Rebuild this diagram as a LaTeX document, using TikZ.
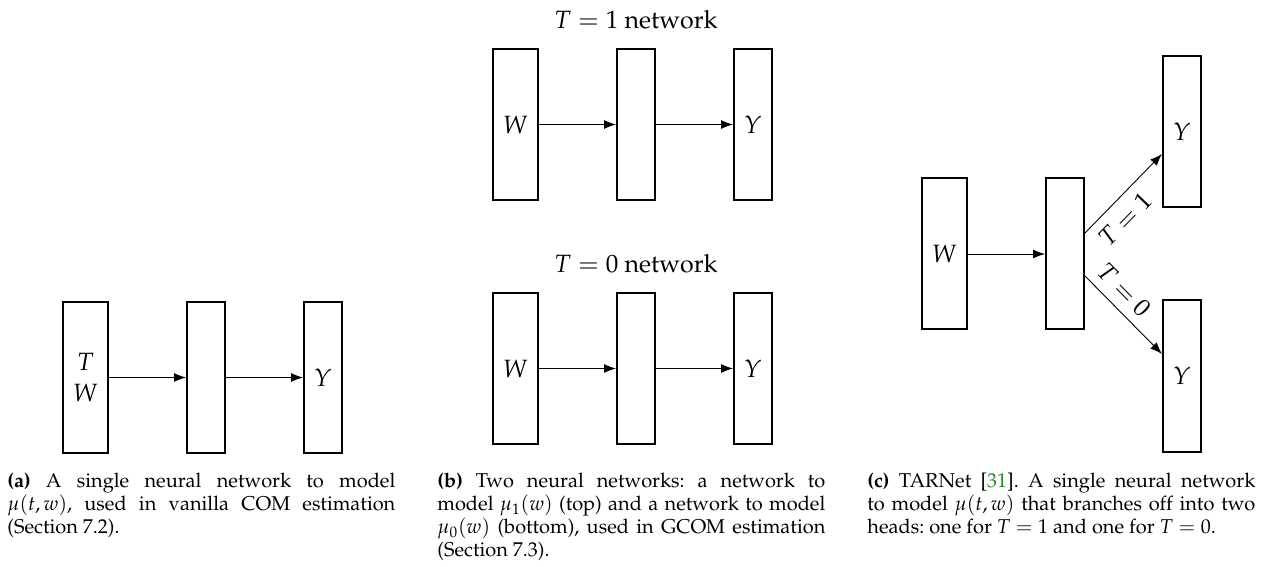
\documentclass[tikz,border=0pt]{standalone}
\usepackage[T1]{fontenc}
\usepackage{mathpazo}
\usepackage{amsmath}
\usepackage{tikz}
\usetikzlibrary{arrows.meta, positioning}
\usepackage{xcolor}
\definecolor{citegreen}{RGB}{40,130,40}
\frenchspacing

\begin{document}
\begin{tikzpicture}[
    x=0.5pt, y=-0.5pt,
    node distance=38.5pt,
    layer/.style={rectangle, draw, line width=1pt, inner sep=0pt,
                  minimum height=75.5pt, minimum width=19pt, align=center,
                  font=\fontsize{12.5}{15.5}\selectfont},
    inlayer/.style={layer, minimum width=22.5pt},
    arr/.style={-{Latex[length=6pt, width=4.5pt]}, line width=0.45pt},
    netlabel/.style={font=\fontsize{12.5}{15.5}\selectfont},
    captext/.style={anchor=north west, inner sep=0pt, text width=194pt, align=justify,
                font=\fontsize{10}{11.5}\selectfont},
]
    \useasboundingbox (0,0) rectangle (1266,567);

    % (a) single network
    \node[inlayer] (inA) at (85.5,377.5) {$T$\\$W$};
    \node[layer, right=of inA] (hidA) {};
    \node[layer, right=of hidA] (outA) {$Y$};
    \draw[arr] (inA) -- (hidA);
    \draw[arr] (hidA) -- (outA);

    % (b) two networks
    \node[inlayer] (inB1) at (515.5,124.5) {$W$};
    \node[layer, right=of inB1] (hidB1) {};
    \node[layer, right=of hidB1] (outB1) {$Y$};
    \node[netlabel, above=6pt of hidB1] (labB1) {$T = 1$ network};
    \draw[arr] (inB1) -- (hidB1);
    \draw[arr] (hidB1) -- (outB1);

    \node[inlayer] (inB0) at (515.5,368.5) {$W$};
    \node[layer, right=of inB0] (hidB0) {};
    \node[layer, right=of hidB0] (outB0) {$Y$};
    \node[netlabel, above=6pt of hidB0] (labB0) {$T = 0$ network};
    \draw[arr] (inB0) -- (hidB0);
    \draw[arr] (hidB0) -- (outB0);

    % (c) TARNet
    \node[inlayer] (inC) at (944.5,254) {$W$};
    \node[layer, right=of inC] (hidC) {};
    \node[layer, right=of hidC, yshift=61pt] (outC1) {$Y$};
    \node[layer, right=of hidC, yshift=-61pt] (outC0) {$Y$};
    \draw[arr] (inC) -- (hidC);
    \draw[arr] ([yshift=10.5pt]hidC.east) -- ([yshift=-11pt]outC1.west)
        node[pos=0.34, sloped, below=1.5pt, netlabel] {$T=1$};
    \draw[arr] ([yshift=-11pt]hidC.east) -- ([yshift=11pt]outC0.west)
        node[pos=0.34, sloped, above=1pt, netlabel] {$T=0$};

    % captions
    \node[captext] (capA) at (7,473) {\textbf{(a)} A single neural network to model\linebreak
        $\mu(t,w)$, used in vanilla COM estimation\linebreak (Section 7.2).};
    \node[captext] (capB) at (437,473) {\textbf{(b)} Two neural networks: a network to\linebreak
        model $\mu_1(w)$ (top) and a network to model\linebreak
        $\mu_0(w)$ (bottom), used in GCOM estimation\linebreak (Section 7.3).};
    \node[captext] (capC) at (867,473) {\textbf{(c)} TARNet [\textcolor{citegreen}{31}]. A single neural network\linebreak
        to model $\mu(t,w)$ that branches off into two\linebreak
        heads: one for $T = 1$ and one for $T = 0$.};
\end{tikzpicture}
\end{document}
